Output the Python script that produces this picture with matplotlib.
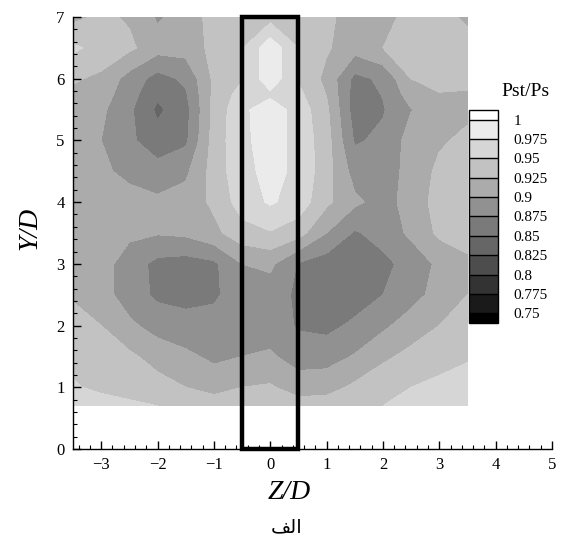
import numpy as np
import matplotlib
matplotlib.use("Agg")
import matplotlib.pyplot as plt
from matplotlib.colors import ListedColormap, BoundaryNorm
from matplotlib.patches import Rectangle
from matplotlib.ticker import MultipleLocator, FixedLocator

# ---- data ----
z_vals = [-3.5, -3.0, -2.5, -2.0, -1.5, -1.0, -0.5, 0.0, 0.5, 1.0, 1.5, 2.0, 2.5, 3.0, 3.5]
y_vals = [0.7, 1.0, 1.5, 2.0, 2.5, 3.0, 3.5, 4.0, 4.5, 5.0, 5.5, 5.75, 6.0, 6.5, 7.0]

p_y07 = [0.962, 0.958, 0.955, 0.950, 0.945, 0.940, 0.938, 0.940, 0.938, 0.938, 0.942, 0.950, 0.958, 0.962, 0.965]
p_y10 = [0.952, 0.946, 0.940, 0.935, 0.925, 0.915, 0.925, 0.928, 0.912, 0.915, 0.930, 0.942, 0.950, 0.955, 0.958]
p_y15 = [0.945, 0.938, 0.930, 0.915, 0.905, 0.895, 0.900, 0.903, 0.890, 0.890, 0.902, 0.920, 0.932, 0.942, 0.948]
p_y20 = [0.935, 0.925, 0.905, 0.890, 0.885, 0.882, 0.888, 0.890, 0.872, 0.868, 0.880, 0.895, 0.912, 0.925, 0.935]
p_y25 = [0.922, 0.910, 0.888, 0.870, 0.866, 0.872, 0.885, 0.888, 0.870, 0.858, 0.862, 0.875, 0.890, 0.910, 0.925]
p_y30 = [0.912, 0.910, 0.888, 0.868, 0.864, 0.870, 0.900, 0.905, 0.873, 0.862, 0.860, 0.868, 0.885, 0.905, 0.920]
p_y35 = [0.915, 0.912, 0.905, 0.902, 0.905, 0.918, 0.940, 0.948, 0.935, 0.900, 0.872, 0.885, 0.905, 0.930, 0.935]
p_y40 = [0.915, 0.910, 0.910, 0.905, 0.910, 0.930, 0.962, 0.978, 0.965, 0.930, 0.905, 0.890, 0.910, 0.935, 0.935]
p_y45 = [0.910, 0.905, 0.893, 0.885, 0.895, 0.935, 0.968, 0.982, 0.970, 0.935, 0.890, 0.885, 0.910, 0.930, 0.935]
p_y50 = [0.910, 0.900, 0.880, 0.860, 0.870, 0.935, 0.970, 0.985, 0.968, 0.935, 0.872, 0.880, 0.910, 0.922, 0.930]
p_y55 = [0.915, 0.905, 0.880, 0.845, 0.866, 0.932, 0.970, 0.988, 0.965, 0.930, 0.863, 0.873, 0.899, 0.915, 0.920]
p_y575 = [0.920, 0.912, 0.885, 0.855, 0.872, 0.931, 0.960, 0.970, 0.956, 0.924, 0.864, 0.876, 0.912, 0.924, 0.924]
p_y60 = [0.928, 0.920, 0.890, 0.865, 0.880, 0.930, 0.948, 0.992, 0.948, 0.918, 0.868, 0.880, 0.925, 0.932, 0.928]
p_y65 = [0.955, 0.940, 0.930, 0.910, 0.910, 0.932, 0.948, 0.992, 0.950, 0.928, 0.910, 0.925, 0.940, 0.940, 0.935]
p_y70 = [0.918, 0.930, 0.922, 0.897, 0.910, 0.935, 0.940, 0.940, 0.935, 0.930, 0.915, 0.920, 0.930, 0.935, 0.920]

levels = [0.75, 0.775, 0.8, 0.825, 0.85, 0.875, 0.9, 0.925, 0.95, 0.975, 1.0]
level_labels = ["0.75", "0.775", "0.8", "0.825", "0.85", "0.875", "0.9", "0.925", "0.95", "0.975", "1"]
x_ticks = [-3, -2, -1, 0, 1, 2, 3, 4, 5]
y_ticks = [0, 1, 2, 3, 4, 5, 6, 7]
box_z = [-0.5, 0.5]
box_y = [0.0, 7.0]

P = np.array([p_y07, p_y10, p_y15, p_y20, p_y25, p_y30, p_y35,
              p_y40, p_y45, p_y50, p_y55, p_y575, p_y60, p_y65, p_y70])
Zg, Yg = np.meshgrid(z_vals, y_vals)

# ---- style ----
grays = [0.0, 0.1, 0.2, 0.3, 0.4, 0.48, 0.57, 0.67, 0.76, 0.84, 0.92, 1.0]
cols = [(g, g, g) for g in grays]
cmap = ListedColormap(cols[1:-1])
cmap.set_under(cols[0])
cmap.set_over(cols[-1])
norm = BoundaryNorm(levels, cmap.N)

serif = "Liberation Serif"
fig = plt.figure(figsize=(5.65, 5.43), dpi=100)
ax = fig.add_axes([73/565, 94/543, 479/565, 432/543])

cs = ax.contourf(Zg, Yg, P, levels=levels, cmap=cmap, norm=norm, extend="both")

ax.add_patch(Rectangle((box_z[0], box_y[0]), box_z[1]-box_z[0], box_y[1]-box_y[0],
                       fill=False, edgecolor="black", linewidth=3.2, zorder=5, clip_on=False))

ax.set_xlim(-3.5, 5)
ax.set_ylim(0, 7)
for s in ["top", "right"]:
    ax.spines[s].set_visible(False)
for s in ["left", "bottom"]:
    ax.spines[s].set_linewidth(1.0)
ax.xaxis.set_major_locator(FixedLocator(x_ticks))
ax.yaxis.set_major_locator(FixedLocator(y_ticks))
ax.xaxis.set_minor_locator(MultipleLocator(0.2))
ax.yaxis.set_minor_locator(MultipleLocator(0.2))
ax.tick_params(which="major", direction="in", length=6, width=1.0, labelsize=12, pad=6)
ax.tick_params(which="minor", direction="in", length=3, width=0.8)
for lab in ax.get_xticklabels() + ax.get_yticklabels():
    lab.set_family(serif)

ax.set_xlabel("Z/D", family=serif, style="italic", fontsize=20)
ax.set_ylabel("Y/D", family=serif, style="italic", fontsize=20)
ax.xaxis.set_label_coords(0.451, -0.072)
ax.yaxis.set_label_coords(-0.064, 0.51)

# ---- colorbar ----
cax = fig.add_axes([469/565, (543-323)/543, 29/565, 213/543])
cb = fig.colorbar(cs, cax=cax, extend="both", extendrect=True, extendfrac=0.049,
                  drawedges=True, ticks=levels)
cb.ax.set_yticklabels(level_labels)
cb.ax.tick_params(length=0, labelsize=11, pad=11)
for lab in cb.ax.get_yticklabels():
    lab.set_family(serif)
cb.outline.set_linewidth(1.0)
cb.dividers.set_linewidth(1.0)
fig.text(501/565, 1-92/543, "Pst/Ps", family=serif, fontsize=14, ha="left", va="center")

# Persian caption (visual-order presentation forms of "الف")
fig.text(287/565, 1-527/543, "\uFED2\uFEDF\uFE8D", family=["DejaVu Sans"], fontsize=14,
         ha="center", va="center")

fig.savefig("out.png", dpi=100)
